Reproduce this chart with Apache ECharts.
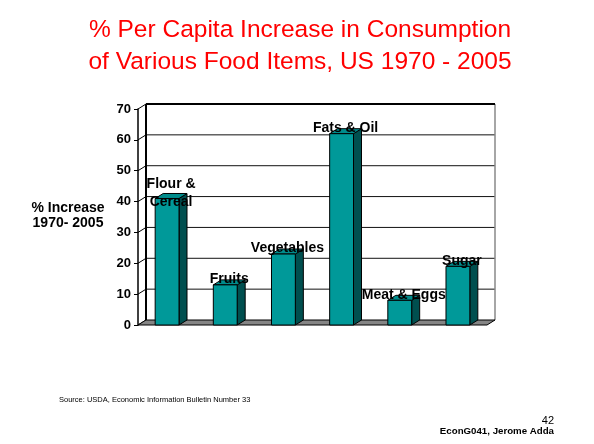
<!DOCTYPE html>
<html>
<head>
<meta charset="utf-8">
<style>
  html, body { margin: 0; padding: 0; background: #fff; }
  #chart { width: 594px; height: 444px; }
</style>
<script src="https://cdn.jsdelivr.net/npm/echarts@6/dist/echarts.min.js"></script>
</head>
<body>
<div id="chart"></div>
<script>
// Food groups and their per capita consumption increase, 1970-2005 (%)
const categories = ['Flour &\nCereal', 'Fruits', 'Vegetables', 'Fats & Oil', 'Meat & Eggs', 'Sugar'];
const increases = [41, 13, 23, 62, 8, 19];
const yTicks = [0, 10, 20, 30, 40, 50, 60, 70];

const FONT = '"Liberation Sans", Arial, Helvetica, sans-serif';
// Offset of the back plane relative to the front plane (pseudo 3D depth)
const DX = 8, DY = -5;

const chart = echarts.init(document.getElementById('chart'), null, { renderer: 'canvas' });

// Back wall, gridlines and the slanted tick connectors
function renderWall(params, api) {
  const cs = params.coordSys;
  const xl = cs.x, xr = cs.x + cs.width;
  const yTop = api.coord([0, yTicks[yTicks.length - 1]])[1];
  const yBot = api.coord([0, yTicks[0]])[1];
  const children = [];
  yTicks.forEach(function (t, k) {
    const y = api.coord([0, t])[1];
    if (k > 0 && k < yTicks.length - 1) {
      children.push({
        type: 'line',
        shape: { x1: xl + DX, y1: y + DY, x2: xr + DX, y2: y + DY },
        style: { stroke: '#111', lineWidth: 1 }
      });
    }
    children.push({
      type: 'line',
      shape: { x1: xl, y1: y, x2: xl + DX, y2: y + DY },
      style: { stroke: '#000', lineWidth: 1 }
    });
  });
  // right edge of wall
  children.push({
    type: 'line',
    shape: { x1: xr + DX, y1: yTop + DY, x2: xr + DX, y2: yBot + DY },
    style: { stroke: '#888', lineWidth: 1.5 }
  });
  // top edge of wall
  children.push({
    type: 'line',
    shape: { x1: xl + DX, y1: yTop + DY, x2: xr + DX, y2: yTop + DY },
    style: { stroke: '#000', lineWidth: 2 }
  });
  // left edge of wall
  children.push({
    type: 'line',
    shape: { x1: xl + DX, y1: yTop + DY, x2: xl + DX, y2: yBot + DY },
    style: { stroke: '#000', lineWidth: 2 }
  });
  // floor
  children.push({
    type: 'polygon',
    shape: { points: [[xl, yBot], [xl + DX, yBot + DY], [xr + DX, yBot + DY], [xr, yBot]] },
    style: { fill: '#858585', stroke: '#000', lineWidth: 1 }
  });
  return { type: 'group', children: children };
}

function renderBar(params, api) {
  const idx = api.value(0);
  const v = api.value(1);
  const top = api.coord([idx, v]);
  const base = api.coord([idx, 0]);
  const w = api.size([1, 0])[0] * 0.41;
  const x0 = top[0] - w / 2, x1 = top[0] + w / 2;
  const yT = top[1], yB = base[1];
  return {
    type: 'group',
    children: [
      {
        type: 'polygon',
        shape: { points: [[x1, yB], [x1 + DX, yB + DY], [x1 + DX, yT + DY], [x1, yT]] },
        style: { fill: '#004f4f', stroke: '#000', lineWidth: 1 }
      },
      {
        type: 'polygon',
        shape: { points: [[x0, yT], [x0 + DX, yT + DY], [x1 + DX, yT + DY], [x1, yT]] },
        style: { fill: '#008c8c', stroke: '#000', lineWidth: 1 }
      },
      {
        type: 'rect',
        shape: { x: x0, y: yT, width: w, height: yB - yT },
        style: { fill: '#009999', stroke: '#000', lineWidth: 1 }
      }
    ]
  };
}

function renderLabel(params, api) {
  const idx = api.value(0);
  const v = api.value(1);
  const top = api.coord([idx, v]);
  return {
    type: 'text',
    style: {
      x: top[0] + DX / 2,
      y: top[1] - 5.5,
      text: categories[idx],
      fill: '#000',
      font: 'bold 14px ' + FONT,
      lineHeight: 18,
      align: 'center',
      verticalAlign: 'middle'
    }
  };
}

const barData = increases.map(function (v, i) { return [i, v]; });

const option = {
  backgroundColor: '#ffffff',
  animation: false,
  grid: { left: 138, right: 107, top: 109, bottom: 119 },
  xAxis: {
    type: 'category',
    data: categories,
    boundaryGap: true,
    axisLine: { show: false },
    axisTick: { show: false },
    axisLabel: { show: false },
    splitLine: { show: false }
  },
  yAxis: {
    type: 'value',
    min: 0,
    max: 70,
    interval: 10,
    axisLine: { show: true, lineStyle: { color: '#000', width: 1.5 } },
    axisTick: { show: true, length: 4, lineStyle: { color: '#000', width: 1 } },
    axisLabel: {
      show: true, margin: 7, color: '#000',
      fontFamily: FONT, fontWeight: 'bold', fontSize: 13
    },
    splitLine: { show: false }
  },
  graphic: [
    {
      type: 'text', z: 10,
      style: {
        x: 300, y: 46.5,
        text: '% Per Capita Increase in Consumption\nof Various Food Items, US 1970 - 2005',
        fill: '#ff0000', font: '24.5px ' + FONT, lineHeight: 32,
        align: 'center', verticalAlign: 'middle'
      }
    },
    {
      type: 'text', z: 10,
      style: {
        x: 68, y: 215.5,
        text: '% Increase\n1970- 2005',
        fill: '#000', font: 'bold 14px ' + FONT, lineHeight: 15,
        align: 'center', verticalAlign: 'middle'
      }
    },
    {
      type: 'text', z: 10,
      style: {
        x: 59, y: 400,
        text: 'Source: USDA, Economic Information Bulletin Number 33',
        fill: '#000', font: '7.5px ' + FONT,
        align: 'left', verticalAlign: 'middle'
      }
    },
    {
      type: 'text', z: 10,
      style: {
        x: 554, y: 421,
        text: '42',
        fill: '#000', font: '11px ' + FONT,
        align: 'right', verticalAlign: 'middle'
      }
    },
    {
      type: 'text', z: 10,
      style: {
        x: 554, y: 431.5,
        text: 'EconG041, Jerome Adda',
        fill: '#000', font: 'bold 9.7px ' + FONT,
        align: 'right', verticalAlign: 'middle'
      }
    }
  ],
  series: [
    {
      type: 'custom', name: 'wall', z: 1,
      renderItem: renderWall,
      data: [[0, 0]],
      silent: true
    },
    {
      type: 'custom', name: 'bars', z: 2,
      renderItem: renderBar,
      data: barData,
      encode: { x: 0, y: 1 }
    },
    {
      type: 'custom', name: 'labels', z: 3,
      renderItem: renderLabel,
      data: barData,
      encode: { x: 0, y: 1 }
    }
  ]
};

chart.setOption(option);
</script>
</body>
</html>
